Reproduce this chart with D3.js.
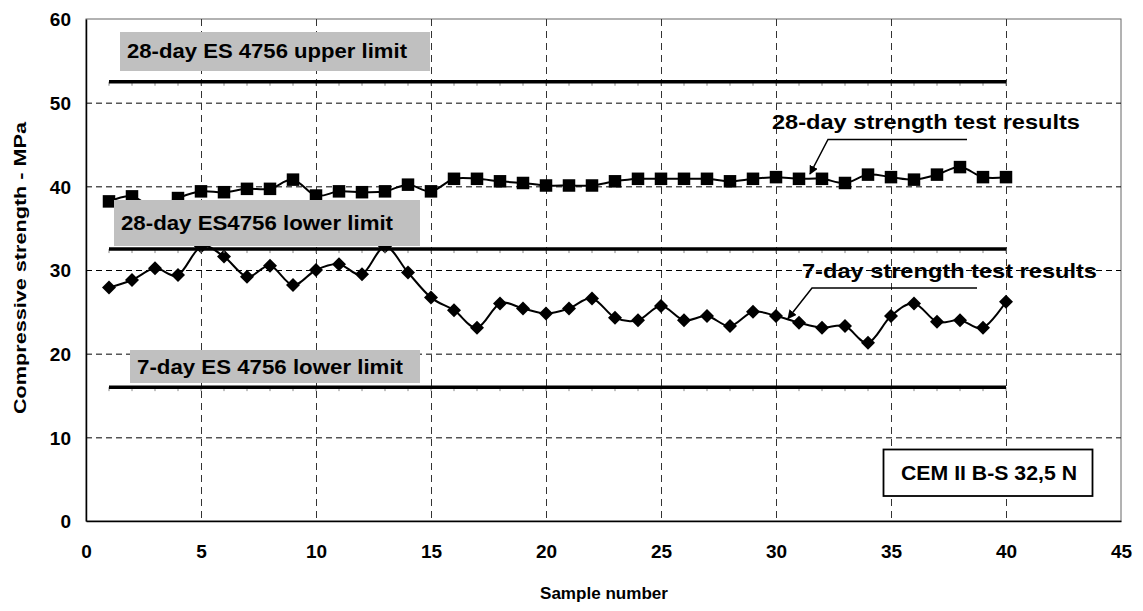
<!DOCTYPE html>
<html>
<head>
<meta charset="utf-8">
<script src="https://cdn.jsdelivr.net/npm/d3@7"></script>
<style>
  html, body { margin: 0; padding: 0; background: #fff; }
  svg text { font-family: "Liberation Sans", Arial, sans-serif; font-weight: bold; fill: #000; }
</style>
</head>
<body>
<svg id="chart" width="1143" height="611"></svg>
<script>
// Sample numbers 1..40
const sampleNo = [1,2,3,4,5,6,7,8,9,10,11,12,13,14,15,16,17,18,19,20,
                  21,22,23,24,25,26,27,28,29,30,31,32,33,34,35,36,37,38,39,40];

// 28-day compressive strength (MPa)
const strength28 = [38.2,38.8,37.4,38.6,39.4,39.3,39.7,39.7,40.8,38.9,
                    39.4,39.3,39.4,40.2,39.4,40.9,40.9,40.6,40.4,40.1,
                    40.1,40.1,40.6,40.9,40.9,40.9,40.9,40.6,40.9,41.1,
                    40.9,40.9,40.4,41.4,41.1,40.8,41.4,42.3,41.1,41.1];

// 7-day compressive strength (MPa)
const strength7 = [27.9,28.8,30.2,29.4,32.8,31.6,29.2,30.5,28.2,30.0,
                   30.7,29.5,32.8,29.7,26.7,25.2,23.1,26.0,25.4,24.8,
                   25.4,26.6,24.3,24.0,25.7,24.0,24.5,23.3,25.0,24.5,
                   23.7,23.1,23.3,21.3,24.5,26.0,23.8,24.0,23.1,26.2];

// ES 4756 limits (MPa)
const limitNames  = ["28-day ES 4756 upper limit", "28-day ES4756 lower limit", "7-day ES 4756 lower limit"];
const limitValues = [52.5, 32.5, 16];

const xTicks = [0,5,10,15,20,25,30,35,40,45];
const yTicks = [0,10,20,30,40,50,60];

const svg = d3.select("#chart");
const plot = { left: 86, right: 1121, top: 19, bottom: 521 };

const x = d3.scaleLinear().domain([0, 45]).range([plot.left, plot.right]);
const y = d3.scaleLinear().domain([0, 60]).range([plot.bottom, plot.top]);

// plot area frame
svg.append("rect")
  .attr("x", plot.left).attr("y", plot.top)
  .attr("width", plot.right - plot.left).attr("height", plot.bottom - plot.top)
  .attr("fill", "#fff").attr("stroke", "#666").attr("stroke-width", 1);

// dashed gridlines
svg.append("g").selectAll("line")
  .data(yTicks.filter(d => d > 0 && d < 60))
  .join("line")
  .attr("x1", plot.left).attr("x2", plot.right)
  .attr("y1", d => y(d) + 0.5).attr("y2", d => y(d) + 0.5)
  .attr("stroke", "#000").attr("stroke-width", 1).attr("stroke-dasharray", "6,4");

svg.append("g").selectAll("line")
  .data(xTicks.filter(d => d > 0 && d < 45))
  .join("line")
  .attr("x1", d => x(d) + 0.5).attr("x2", d => x(d) + 0.5)
  .attr("y1", plot.top).attr("y2", plot.bottom)
  .attr("stroke", "#333").attr("stroke-width", 1).attr("stroke-dasharray", "7,5");

// axes (labels only, no tick marks)
const yAxis = svg.append("g")
  .attr("transform", `translate(${plot.left},0)`)
  .call(d3.axisLeft(y).tickValues(yTicks).tickSize(0).tickPadding(15));
yAxis.select(".domain").attr("stroke", "#000").attr("stroke-width", 1.5);
yAxis.selectAll("text").attr("font-size", 19).attr("dy", "0.36em");

const xAxis = svg.append("g")
  .attr("transform", `translate(0,${plot.bottom})`)
  .call(d3.axisBottom(x).tickValues(xTicks).tickSize(0).tickPadding(24));
xAxis.select(".domain").attr("stroke", "#000").attr("stroke-width", 1.5);
xAxis.selectAll("text").attr("font-size", 19);
svg.selectAll(".tick text").style("font-family", "'Liberation Sans', Arial, sans-serif").style("font-weight", "bold");

// limit lines
const limits = limitValues.map((v, i) => ({ name: limitNames[i], value: v }));
const limitG = svg.append("g");
limits.forEach(l => {
  limitG.append("g").selectAll("line")
    .data(sampleNo)
    .join("line")
    .attr("x1", d => x(d)).attr("x2", d => x(d))
    .attr("y1", y(l.value)).attr("y2", y(l.value) + 4)
    .attr("stroke", "#888").attr("stroke-width", 1);
});

// smoothed series lines
const line = d3.line()
  .x((d, i) => x(sampleNo[i]))
  .y(d => y(d))
  .curve(d3.curveCatmullRom.alpha(0));

svg.append("path").datum(strength28)
  .attr("d", line).attr("fill", "none").attr("stroke", "#000").attr("stroke-width", 2);
svg.append("path").datum(strength7)
  .attr("d", line).attr("fill", "none").attr("stroke", "#000").attr("stroke-width", 2);

// markers
const sq = 12.5;
svg.append("g").selectAll("rect")
  .data(strength28)
  .join("rect")
  .attr("x", (d, i) => x(sampleNo[i]) - sq / 2)
  .attr("y", d => y(d) - sq / 2)
  .attr("width", sq).attr("height", sq)
  .attr("fill", "#000");

const dm = 7;
svg.append("g").selectAll("path")
  .data(strength7)
  .join("path")
  .attr("d", (d, i) => {
    const cx = x(sampleNo[i]), cy = y(d);
    return `M${cx},${cy - dm}L${cx + dm},${cy}L${cx},${cy + dm}L${cx - dm},${cy}Z`;
  })
  .attr("fill", "#000");

// thick limit lines from sample 1 to 40
limitG.raise();
limits.forEach(l => {
  limitG.append("line")
    .attr("x1", x(sampleNo[0])).attr("x2", x(sampleNo[sampleNo.length - 1]))
    .attr("y1", y(l.value)).attr("y2", y(l.value))
    .attr("stroke", "#000").attr("stroke-width", 3.5);
});

// grey limit captions
const captions = [
  { text: limitNames[0], bx: 120, by: 32, bw: 310, bh: 39, tx: 127, ty: 57.5, tw: 280 },
  { text: limitNames[1], bx: 114, by: 200, bw: 306, bh: 46, tx: 121, ty: 230, tw: 272 },
  { text: limitNames[2], bx: 130, by: 350, bw: 290, bh: 33, tx: 137, ty: 373.5, tw: 266 }
];
captions.forEach(c => {
  svg.append("rect").attr("x", c.bx).attr("y", c.by).attr("width", c.bw).attr("height", c.bh)
    .attr("fill", "#c0c0c0");
  svg.append("text").attr("x", c.tx).attr("y", c.ty)
    .attr("font-size", 20).attr("textLength", c.tw).attr("lengthAdjust", "spacingAndGlyphs")
    .text(c.text);
});

// cement type box
svg.append("rect").attr("x", 883.5).attr("y", 449.5).attr("width", 209).attr("height", 46.5)
  .attr("fill", "#fff").attr("stroke", "#000").attr("stroke-width", 1.8);
svg.append("text").attr("x", 901).attr("y", 479.5)
  .attr("font-size", 20).attr("textLength", 176).attr("lengthAdjust", "spacingAndGlyphs")
  .text("CEM II B-S 32,5 N");

// series annotations with leader arrows
svg.append("defs").append("marker")
  .attr("id", "arrow").attr("viewBox", "0 0 10 10")
  .attr("refX", 9).attr("refY", 5)
  .attr("markerWidth", 9).attr("markerHeight", 9)
  .attr("markerUnits", "userSpaceOnUse")
  .attr("orient", "auto")
  .append("path").attr("d", "M0,0L10,5L0,10Z").attr("fill", "#000");

const notes = [
  { text: "28-day strength test results", tx: 772, ty: 128.5, tw: 308,
    pts: [[967, 139.5], [828, 139.5], [810, 174]] },
  { text: "7-day strength test results", tx: 802, ty: 277.5, tw: 295,
    pts: [[977, 288], [812, 288], [788, 318.5]] }
];
notes.forEach(n => {
  svg.append("text").attr("x", n.tx).attr("y", n.ty)
    .attr("font-size", 20.5).attr("textLength", n.tw).attr("lengthAdjust", "spacingAndGlyphs")
    .text(n.text);
  svg.append("path").attr("d", d3.line()(n.pts))
    .attr("fill", "none").attr("stroke", "#000").attr("stroke-width", 1.5)
    .attr("marker-end", "url(#arrow)");
});

// axis titles
svg.append("text")
  .attr("x", 604).attr("y", 599)
  .attr("text-anchor", "middle").attr("font-size", 17)
  .attr("textLength", 128).attr("lengthAdjust", "spacingAndGlyphs")
  .text("Sample number");

svg.append("text")
  .attr("transform", "translate(26,268) rotate(-90)")
  .attr("text-anchor", "middle").attr("font-size", 17)
  .attr("textLength", 292).attr("lengthAdjust", "spacingAndGlyphs")
  .text("Compressive strength - MPa");
</script>
</body>
</html>
